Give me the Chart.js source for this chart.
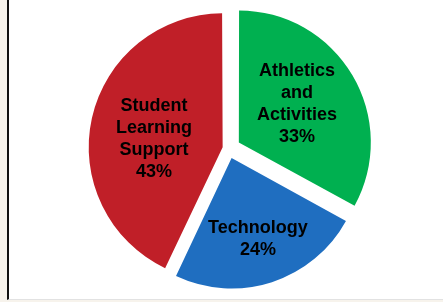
<!DOCTYPE html>
<html>
<head>
<meta charset="utf-8">
<script src="https://cdn.jsdelivr.net/npm/chart.js@4.4.0/dist/chart.umd.min.js"></script>
<style>
  html, body { margin: 0; padding: 0; }
  body { width: 443px; height: 302px; background: #f7f3ec; position: relative; overflow: hidden; }
  #panel { position: absolute; left: 7px; top: 0; width: 436px; height: 300px; background: #fff;
           border-left: 2px solid #111; border-bottom: 1px solid #e2e2e2; box-sizing: border-box; }
  #wrap { position: absolute; left: 0; top: 0; width: 443px; height: 302px; }
</style>
</head>
<body>
<div id="panel"></div>
<div id="wrap"><canvas id="myChart"></canvas></div>
<script>
// slice data, clockwise from 12 o'clock
const categories = [['Athletics', 'and', 'Activities'], ['Technology'], ['Student', 'Learning', 'Support']];
const shares = [33, 24, 43];
const sliceColors = ['#00b050', '#1f6ec0', '#c01f28'];

// draws the text inside each slice
const sliceLabels = {
    id: 'sliceLabels',
    afterDatasetsDraw(chart, args, opts) {
        const ctx = chart.ctx;
        const meta = chart.getDatasetMeta(0);
        ctx.save();
        ctx.font = 'bold 18px "Liberation Sans", Arial, sans-serif';
        ctx.fillStyle = '#000';
        ctx.textAlign = 'center';
        ctx.textBaseline = 'middle';
        meta.data.forEach(function (arc, i) {
            const p = arc.getProps(['x', 'y', 'startAngle', 'endAngle', 'outerRadius'], true);
            const mid = (p.startAngle + p.endAngle) / 2 + opts.turn[i] * Math.PI / 180;
            const dist = p.outerRadius * opts.radius[i];
            const cx = p.x + Math.cos(mid) * dist;
            const cy = p.y + Math.sin(mid) * dist;
            const lines = categories[i].concat([shares[i] + '%']);
            const top = cy - (lines.length - 1) * 22 / 2;
            lines.forEach(function (t, k) {
                ctx.fillText(t, cx, top + k * 22);
            });
        });
        ctx.restore();
    }
};

new Chart('myChart', {
    type: 'pie',
    data: {
        labels: categories,
        datasets: [{
            data: shares,
            backgroundColor: sliceColors,
            borderWidth: 0,
            offset: [48, 40, 24]
        }]
    },
    options: {
        responsive: true,
        maintainAspectRatio: false,
        animation: false,
        radius: 130.5,
        layout: { padding: { left: 14, right: 0, top: 10, bottom: 15 } },
        plugins: {
            legend: { display: false },
            tooltip: { enabled: false },
            sliceLabels: { radius: [0.626, 0.73, 0.576], turn: [-2.4, 0, -5] }
        }
    },
    plugins: [sliceLabels]
});
</script>
</body>
</html>
